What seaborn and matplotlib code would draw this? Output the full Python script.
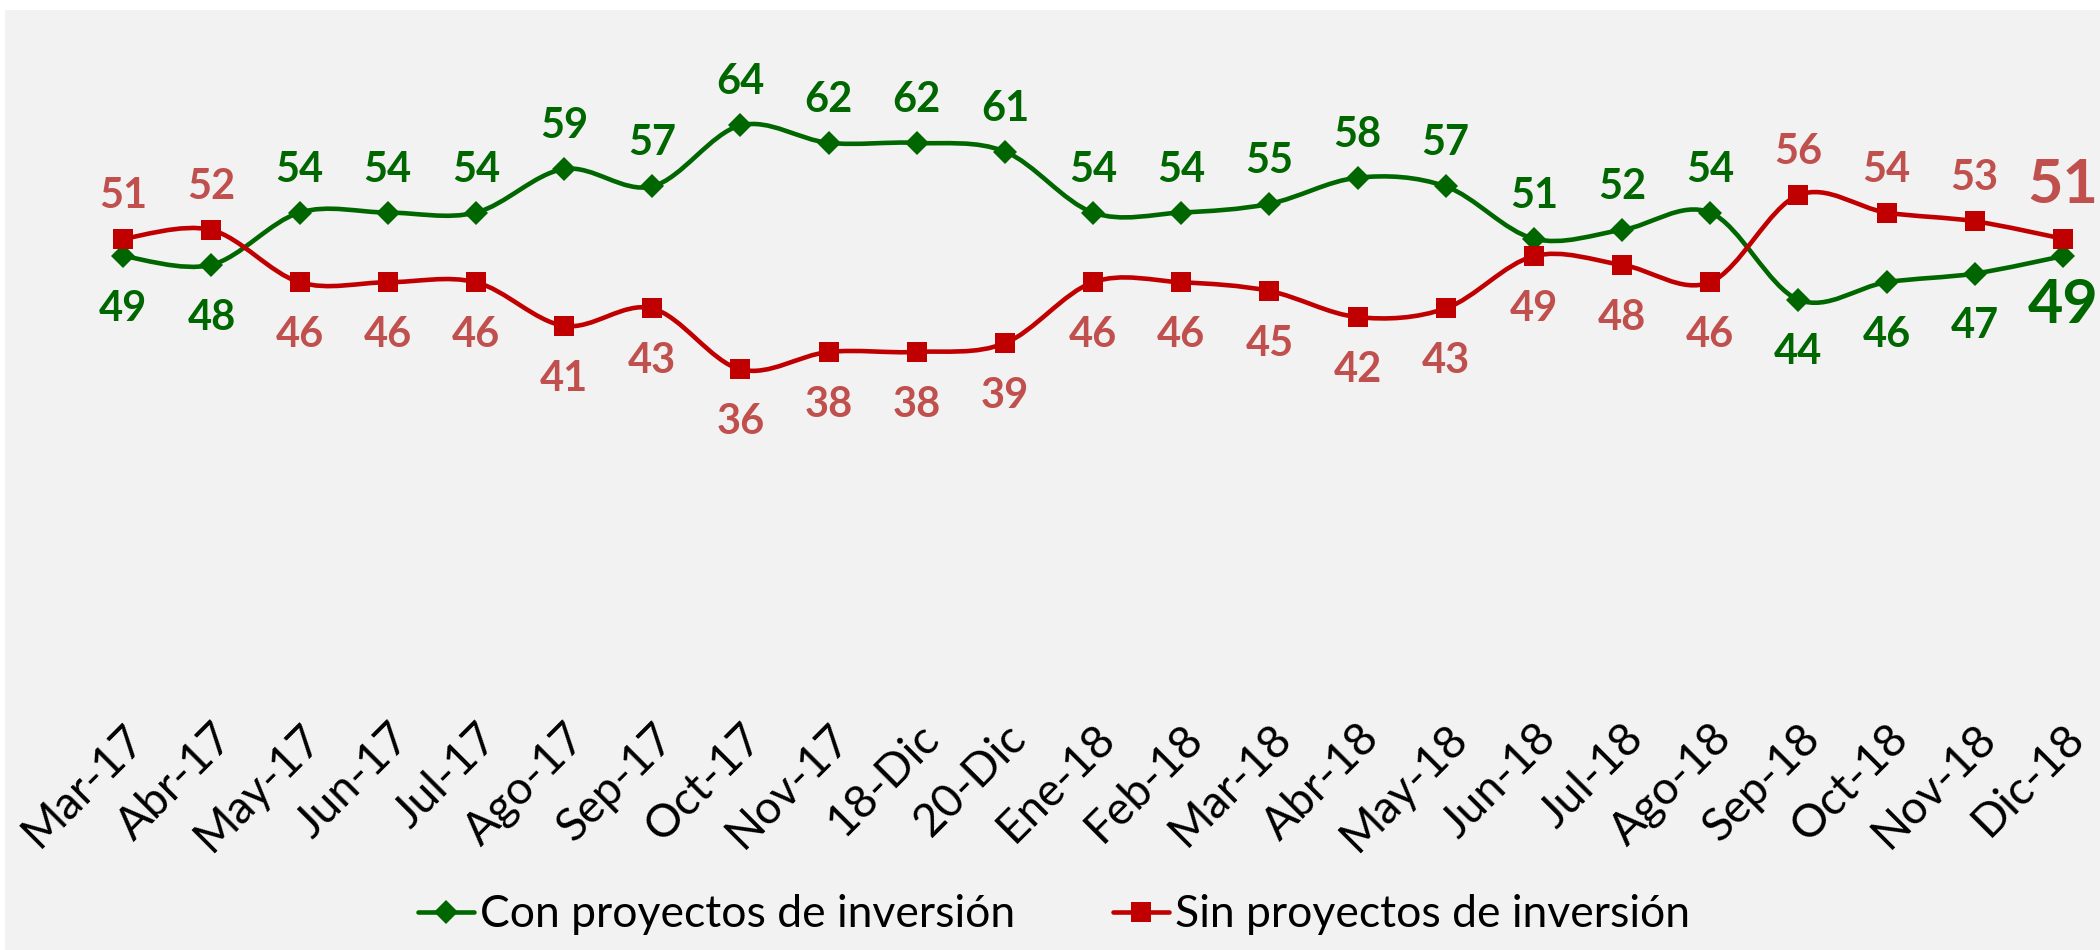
import numpy as np
import pandas as pd
import matplotlib
matplotlib.use("Agg")
import matplotlib.pyplot as plt
import seaborn as sns
from matplotlib.path import Path
from matplotlib.patches import PathPatch, Rectangle
from matplotlib.lines import Line2D

# data
months = ["Mar-17", "Abr-17", "May-17", "Jun-17", "Jul-17", "Ago-17", "Sep-17",
          "Oct-17", "Nov-17", "18-Dic", "20-Dic", "Ene-18", "Feb-18", "Mar-18",
          "Abr-18", "May-18", "Jun-18", "Jul-18", "Ago-18", "Sep-18", "Oct-18",
          "Nov-18", "Dic-18"]
con_proyectos = [49, 48, 54, 54, 54, 59, 57, 64, 62, 62, 61, 54, 54, 55, 58, 57,
                 51, 52, 54, 44, 46, 47, 49]
sin_proyectos = [51, 52, 46, 46, 46, 41, 43, 36, 38, 38, 39, 46, 46, 45, 42, 43,
                 49, 48, 46, 56, 54, 53, 51]
series_names = ["Con proyectos de inversión", "Sin proyectos de inversión"]

GREEN = "#006600"
RED = "#C00000"
RED_TXT = "#C0504D"
BG = "#F2F2F2"

sns.set_theme(style="white")
plt.rcParams["font.family"] = ["Lato", "DejaVu Sans"]
plt.rcParams["text.color"] = "black"


def smooth_path(xs, ys):
    """Excel-like smoothed line (Catmull-Rom as cubic Bezier)."""
    pts = np.column_stack([xs, ys]).astype(float)
    n = len(pts)
    verts = [pts[0]]
    codes = [Path.MOVETO]
    for i in range(n - 1):
        p0 = pts[max(i - 1, 0)]
        p1 = pts[i]
        p2 = pts[i + 1]
        p3 = pts[min(i + 2, n - 1)]
        verts += [p1 + (p2 - p0) / 6, p2 - (p3 - p1) / 6, p2]
        codes += [Path.CURVE4] * 3
    return Path(verts, codes)


df = pd.DataFrame({
    "idx": list(range(len(months))) * 2,
    "valor": con_proyectos + sin_proyectos,
    "serie": [series_names[0]] * len(months) + [series_names[1]] * len(months),
})

fig = plt.figure(figsize=(21, 9.5), dpi=100)
fig.patch.set_facecolor("white")
fig.patches.append(Rectangle((5 / 2100, 0), 1 - 5 / 2100, 1 - 10 / 950,
                             transform=fig.transFigure, facecolor=BG,
                             edgecolor="none", zorder=-5))

ax = fig.add_axes([0.0419, 0.281, 0.953, 0.642])
ax.set_facecolor("none")

# smoothed lines, green first so red sits on top
x = np.arange(len(months))
ax.add_patch(PathPatch(smooth_path(x, con_proyectos), fill=False,
                       edgecolor=GREEN, lw=3.3, zorder=2, capstyle="round"))
ax.add_patch(PathPatch(smooth_path(x, sin_proyectos), fill=False,
                       edgecolor=RED, lw=3.3, zorder=4, capstyle="round"))

sns.lineplot(data=df[df["serie"] == series_names[0]], x="idx", y="valor",
             color=GREEN, marker="D", markersize=12, linewidth=0,
             markeredgewidth=0, ax=ax, legend=False, zorder=3)
sns.lineplot(data=df[df["serie"] == series_names[1]], x="idx", y="valor",
             color=RED, marker="s", markersize=14, linewidth=0,
             markeredgewidth=0, ax=ax, legend=False, zorder=5)

# data labels
last = len(months) - 1
for i, (g, r) in enumerate(zip(con_proyectos, sin_proyectos)):
    big = i == last
    fs = 44 if big else 30
    g_up = g >= r
    g_off = (31 if not big else 38) if g_up else -(38 if not big else 35)
    r_off = -(38 if not big else 35) if g_up else (31 if not big else 39)
    ax.annotate(str(g), (i, g), xytext=(0, g_off), textcoords="offset points",
                ha="center", va="center", fontsize=fs, fontweight="bold",
                color=GREEN, zorder=6)
    ax.annotate(str(r), (i, r), xytext=(0, r_off), textcoords="offset points",
                ha="center", va="center", fontsize=fs, fontweight="bold",
                color=RED_TXT, zorder=6)

ax.set_xlim(-0.4, 22.3)
ax.set_ylim(0, 70)
ax.set_xticks(x)
ax.set_xticklabels(months, rotation=45, ha="right", va="top",
                   rotation_mode="anchor", fontsize=33, color="black")
ax.set_yticks([])
ax.tick_params(axis="x", length=0, pad=24)
ax.set_xlabel("")
ax.set_ylabel("")
for s in ax.spines.values():
    s.set_visible(False)

handles = [
    Line2D([], [], color=GREEN, lw=3.3, marker="D", markersize=12,
           markeredgewidth=0),
    Line2D([], [], color=RED, lw=3.3, marker="s", markersize=14,
           markeredgewidth=0),
]
leg = fig.legend(handles, series_names, loc="center",
                 bbox_to_anchor=(0.502, 0.037), ncol=2, frameon=False,
                 fontsize=32, handlelength=1.25, handletextpad=0.15,
                 columnspacing=2.2)
for t in leg.get_texts():
    t.set_color("black")

fig.savefig("out.png", dpi=100, facecolor=fig.get_facecolor())
